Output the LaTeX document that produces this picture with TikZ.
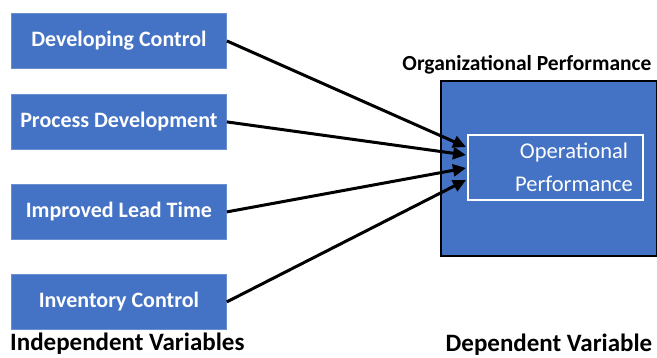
\documentclass[tikz,border=0pt]{standalone}
\usepackage{fontspec}
\setmainfont{Carlito}
\usetikzlibrary{arrows.meta}
\definecolor{offblue}{HTML}{4472C4}
\definecolor{edgeblue}{HTML}{6A8FD0}
\tikzset{
  ivbox/.style={draw=edgeblue, line width=0.8pt, fill=offblue, text=white, font=\bfseries\fontsize{22}{26}\selectfont, minimum width=215pt, minimum height=55pt, inner sep=0pt, anchor=north west},
  conn/.style={line width=3pt, -{Triangle[length=13pt,width=12pt]}},
  lbl/.style={font=\bfseries\fontsize{25}{30}\selectfont, text=black, inner sep=0pt}
}
\begin{document}
\begin{tikzpicture}[x=1pt,y=-1pt]
\useasboundingbox (0,0) rectangle (657,357);
\node[ivbox] (dc) at (11,13) {Developing Control};
\node[ivbox] (pd) at (11,94) {Process Development};
\node[ivbox] (lt) at (11,184) {Improved Lead Time};
\node[ivbox] (ic) at (11,274) {Inventory Control};
\node[draw=black, line width=1.5pt, fill=offblue, minimum width=216pt, minimum height=175pt, inner sep=0pt, anchor=north west] (op) at (440,80) {};
\node[draw=white, line width=1.5pt, minimum width=175pt, minimum height=65pt, inner sep=0pt, anchor=north west] (inner) at (467,134) {};
\node[text=white, font=\fontsize{22.5}{33}\selectfont, align=center, inner sep=0pt] (optxt) at (574,167) {Operational\\Performance};
\node[lbl, font=\bfseries\fontsize{21.5}{26}\selectfont, anchor=base] (orglbl) at (527,70) {Organizational Performance};
\node[lbl, anchor=base] (deplbl) at (549,351) {Dependent Variable};
\node[lbl, anchor=base west] (indlbl) at (10,350) {Independent Variables};
\coordinate (t1) at (466,147);
\coordinate (t2) at (466,155);
\coordinate (t3) at (466,168);
\coordinate (t4) at (466,180);
\draw[conn] (dc.east) -- (t1);
\draw[conn] (pd.east) -- (t2);
\draw[conn] (lt.east) -- (t3);
\draw[conn] (ic.east) -- (t4);
\end{tikzpicture}
\end{document}
